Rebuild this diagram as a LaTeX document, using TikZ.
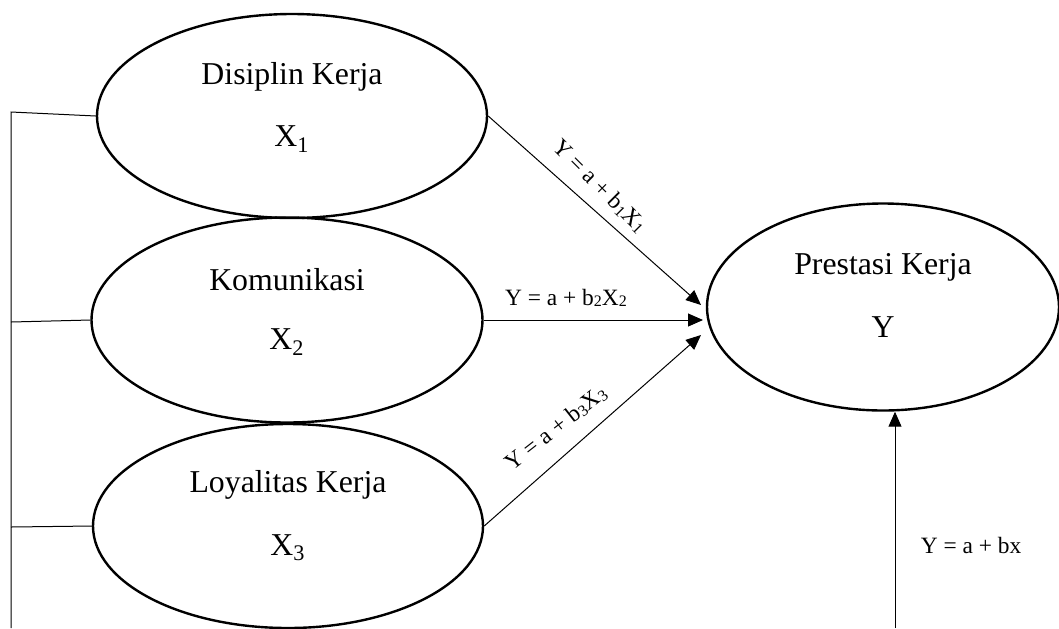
\documentclass[tikz,border=0pt]{standalone}
\usepackage{fontspec}
\setmainfont{Liberation Serif}
\usetikzlibrary{arrows.meta,shapes.geometric}
\newcommand{\eqsub}[1]{\raisebox{-0.15ex}{\fontsize{8}{9}\selectfont #1}}
\tikzset{
  var/.style={draw, line width=1.2pt, ellipse, inner sep=0pt},
  vtext/.style={font=\fontsize{15.9}{18}\selectfont, inner sep=0pt},
  eq/.style={font=\fontsize{11.7}{13}\selectfont, inner sep=1pt},
  link/.style={line width=0.5pt},
  arr/.style={line width=0.5pt, -{Triangle[length=7.5pt,width=6.5pt]}}
}
\begin{document}
\begin{tikzpicture}[x=0.5pt, y=-0.5pt]
\useasboundingbox (0,0) rectangle (1059,628);
% ellipses
\node[var, minimum width=195pt, minimum height=102pt] (x1) at (292,116) {};
\node[var, minimum width=195.5pt, minimum height=102.5pt] (x2) at (287,320) {};
\node[var, minimum width=195pt, minimum height=102pt] (x3) at (288,526) {};
\node[var, minimum width=176pt, minimum height=103.5pt] (y) at (883,307) {};
% texts
\node[vtext] (t1a) at (292,77) {Disiplin Kerja};
\node[vtext] (t1b) at (292,139) {X\textsubscript{1}};
\node[vtext] (t2a) at (287,280) {Komunikasi};
\node[vtext] (t2b) at (287,342) {X\textsubscript{2}};
\node[vtext] (t3a) at (288,485) {Loyalitas Kerja};
\node[vtext] (t3b) at (288,548) {X\textsubscript{3}};
\node[vtext] (tya) at (883,267) {Prestasi Kerja};
\node[vtext] (tyb) at (883,327) {Y};
% left bracket
\coordinate (b0) at (11,112);
\coordinate (b1) at (11,322);
\coordinate (b2) at (11,527);
\coordinate (b3) at (11,628);
\draw[link] (x1.west) -- (b0) -- (b3);
\draw[link] (x2.west) -- (b1);
\draw[link] (x3.west) -- (b2);
% arrows
\coordinate (e1) at (701,305);
\coordinate (e2) at (703,320);
\coordinate (e3) at (701,335);
\draw[arr] (x1.east) -- (e1);
\draw[arr] (x2.east) -- (e2);
\draw[arr] (x3.east) -- (e3);
\coordinate (bot) at (895,628);
\draw[arr] (bot) -- (y.south -| bot);
% equation labels
\node[eq, rotate=-45] (l1) at (600,186) {Y = a + b\eqsub{1}X\eqsub{1}};
\node[eq] (l2) at (566,298) {Y = a + b\eqsub{2}X\eqsub{2}};
\node[eq, fill=white, rotate=38] (l3) at (556,428) {Y = a + b\eqsub{3}X\eqsub{3}};
\node[eq] (l4) at (971,545) {Y = a + bx};
\end{tikzpicture}
\end{document}
